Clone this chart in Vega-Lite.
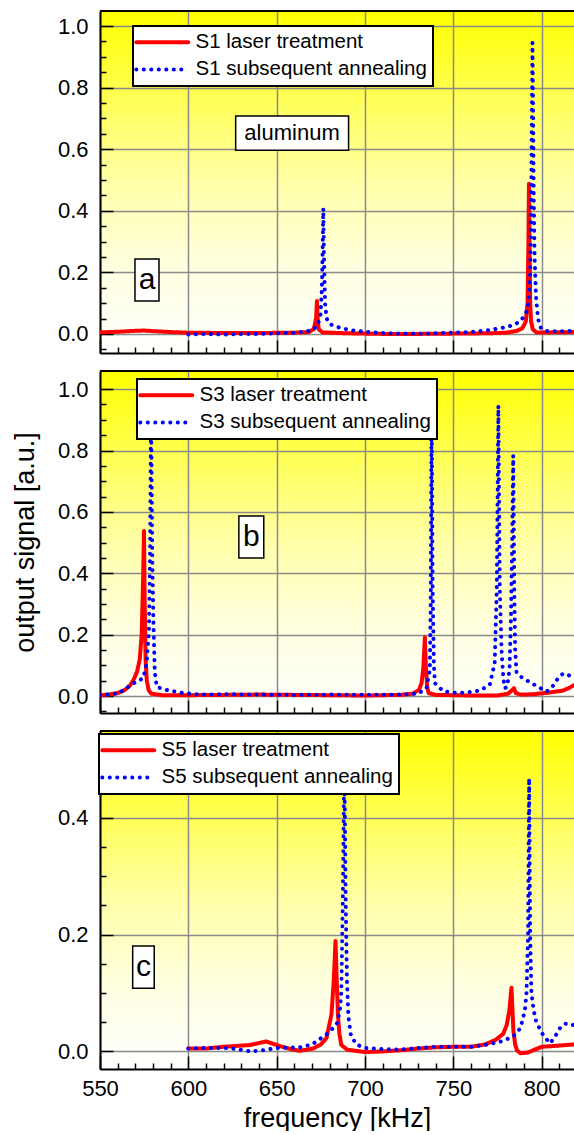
{
  "$schema": "https://vega.github.io/schema/vega-lite/v6.json",
  "padding": {"left": 11, "top": 10, "right": 0, "bottom": 0},
  "config": {
    "font": "Liberation Sans",
    "view": {"stroke": null, "fill": {"gradient": "linear", "x1": 0, "y1": 0, "x2": 0, "y2": 1, "stops": [{"offset": 0, "color": "#ffff00"}, {"offset": 0.25, "color": "#ffff55"}, {"offset": 0.5, "color": "#ffffa8"}, {"offset": 0.75, "color": "#ffffe0"}, {"offset": 1, "color": "#ffffff"}]}},
    "axis": {"domainColor": "black", "domainWidth": 2, "tickColor": "black", "tickWidth": 1.5, "gridColor": "#8a8a8a", "gridWidth": 1.5, "labelFont": "Liberation Sans", "labelColor": "black", "labelOverlap": false, "labelFlush": false, "labelBound": false, "labelPadding": 25, "tickCount": 200, "titleFont": "Liberation Sans", "titleFontSize": 27, "titleFontWeight": "normal", "titleColor": "black"},
    "legend": {"fillColor": "white", "strokeColor": "black", "padding": 6, "labelFont": "Liberation Sans", "labelFontSize": 20.5, "labelColor": "black", "labelLimit": 500, "symbolType": "M-26,0H26", "symbolSize": 4, "symbolStrokeWidth": 4, "symbolOffset": 13, "labelOffset": 23, "rowPadding": 6.2, "labelBaseline": "middle"}
  },
  "datasets": {
    "a": [
      {"series": "S1 laser treatment", "freq": 550, "signal": 0.005}, {"series": "S1 laser treatment", "freq": 560, "signal": 0.007}, {"series": "S1 laser treatment", "freq": 570, "signal": 0.01}, {"series": "S1 laser treatment", "freq": 575, "signal": 0.011}, {"series": "S1 laser treatment", "freq": 580, "signal": 0.009}, {"series": "S1 laser treatment", "freq": 590, "signal": 0.006}, {"series": "S1 laser treatment", "freq": 600, "signal": 0.004}, {"series": "S1 laser treatment", "freq": 620, "signal": 0.003}, {"series": "S1 laser treatment", "freq": 640, "signal": 0.003}, {"series": "S1 laser treatment", "freq": 660, "signal": 0.004}, {"series": "S1 laser treatment", "freq": 668, "signal": 0.006}, {"series": "S1 laser treatment", "freq": 671, "signal": 0.015}, {"series": "S1 laser treatment", "freq": 672.3, "signal": 0.05}, {"series": "S1 laser treatment", "freq": 672.8, "signal": 0.107}, {"series": "S1 laser treatment", "freq": 673.2, "signal": 0.05}, {"series": "S1 laser treatment", "freq": 673.8, "signal": 0.015}, {"series": "S1 laser treatment", "freq": 676, "signal": 0.005}, {"series": "S1 laser treatment", "freq": 690, "signal": 0.002}, {"series": "S1 laser treatment", "freq": 710, "signal": 0.0}, {"series": "S1 laser treatment", "freq": 730, "signal": 0.0}, {"series": "S1 laser treatment", "freq": 750, "signal": 0.001}, {"series": "S1 laser treatment", "freq": 770, "signal": 0.002}, {"series": "S1 laser treatment", "freq": 780, "signal": 0.004}, {"series": "S1 laser treatment", "freq": 786, "signal": 0.01}, {"series": "S1 laser treatment", "freq": 789, "signal": 0.018}, {"series": "S1 laser treatment", "freq": 791, "signal": 0.04}, {"series": "S1 laser treatment", "freq": 792, "signal": 0.1}, {"series": "S1 laser treatment", "freq": 792.5, "signal": 0.3}, {"series": "S1 laser treatment", "freq": 792.8, "signal": 0.488}, {"series": "S1 laser treatment", "freq": 793.1, "signal": 0.3}, {"series": "S1 laser treatment", "freq": 793.5, "signal": 0.1}, {"series": "S1 laser treatment", "freq": 794, "signal": 0.04}, {"series": "S1 laser treatment", "freq": 795, "signal": 0.015}, {"series": "S1 laser treatment", "freq": 797, "signal": 0.005}, {"series": "S1 laser treatment", "freq": 805, "signal": 0.005}, {"series": "S1 laser treatment", "freq": 818, "signal": 0.006},
      {"series": "S1 subsequent annealing", "freq": 600, "signal": -0.002}, {"series": "S1 subsequent annealing", "freq": 610, "signal": 0.0}, {"series": "S1 subsequent annealing", "freq": 620, "signal": -0.002}, {"series": "S1 subsequent annealing", "freq": 630, "signal": 0.0}, {"series": "S1 subsequent annealing", "freq": 640, "signal": 0.0}, {"series": "S1 subsequent annealing", "freq": 650, "signal": 0.002}, {"series": "S1 subsequent annealing", "freq": 660, "signal": 0.004}, {"series": "S1 subsequent annealing", "freq": 669, "signal": 0.01}, {"series": "S1 subsequent annealing", "freq": 673, "signal": 0.025}, {"series": "S1 subsequent annealing", "freq": 674.8, "signal": 0.06}, {"series": "S1 subsequent annealing", "freq": 675.6, "signal": 0.15}, {"series": "S1 subsequent annealing", "freq": 676.1, "signal": 0.3}, {"series": "S1 subsequent annealing", "freq": 676.4, "signal": 0.408}, {"series": "S1 subsequent annealing", "freq": 676.8, "signal": 0.25}, {"series": "S1 subsequent annealing", "freq": 677.4, "signal": 0.1}, {"series": "S1 subsequent annealing", "freq": 678.3, "signal": 0.05}, {"series": "S1 subsequent annealing", "freq": 680, "signal": 0.032}, {"series": "S1 subsequent annealing", "freq": 685.8, "signal": 0.02}, {"series": "S1 subsequent annealing", "freq": 692, "signal": 0.012}, {"series": "S1 subsequent annealing", "freq": 700, "signal": 0.007}, {"series": "S1 subsequent annealing", "freq": 710, "signal": 0.003}, {"series": "S1 subsequent annealing", "freq": 720, "signal": 0.001}, {"series": "S1 subsequent annealing", "freq": 730, "signal": 0.001}, {"series": "S1 subsequent annealing", "freq": 740, "signal": 0.002}, {"series": "S1 subsequent annealing", "freq": 750, "signal": 0.004}, {"series": "S1 subsequent annealing", "freq": 760, "signal": 0.006}, {"series": "S1 subsequent annealing", "freq": 770, "signal": 0.012}, {"series": "S1 subsequent annealing", "freq": 778, "signal": 0.02}, {"series": "S1 subsequent annealing", "freq": 784, "signal": 0.028}, {"series": "S1 subsequent annealing", "freq": 788, "signal": 0.042}, {"series": "S1 subsequent annealing", "freq": 791, "signal": 0.065}, {"series": "S1 subsequent annealing", "freq": 792.5, "signal": 0.1}, {"series": "S1 subsequent annealing", "freq": 793.5, "signal": 0.2}, {"series": "S1 subsequent annealing", "freq": 794.1, "signal": 0.45}, {"series": "S1 subsequent annealing", "freq": 794.5, "signal": 0.75}, {"series": "S1 subsequent annealing", "freq": 794.8, "signal": 0.946}, {"series": "S1 subsequent annealing", "freq": 795.1, "signal": 0.75}, {"series": "S1 subsequent annealing", "freq": 795.5, "signal": 0.45}, {"series": "S1 subsequent annealing", "freq": 796, "signal": 0.25}, {"series": "S1 subsequent annealing", "freq": 796.8, "signal": 0.12}, {"series": "S1 subsequent annealing", "freq": 797.6, "signal": 0.07}, {"series": "S1 subsequent annealing", "freq": 798.3, "signal": 0.04}, {"series": "S1 subsequent annealing", "freq": 799.5, "signal": 0.02}, {"series": "S1 subsequent annealing", "freq": 802, "signal": 0.01}, {"series": "S1 subsequent annealing", "freq": 810, "signal": 0.008}, {"series": "S1 subsequent annealing", "freq": 818, "signal": 0.01}
    ],
    "b": [
      {"series": "S3 laser treatment", "freq": 550, "signal": 0.003}, {"series": "S3 laser treatment", "freq": 555, "signal": 0.005}, {"series": "S3 laser treatment", "freq": 560, "signal": 0.01}, {"series": "S3 laser treatment", "freq": 564, "signal": 0.02}, {"series": "S3 laser treatment", "freq": 567, "signal": 0.035}, {"series": "S3 laser treatment", "freq": 569, "signal": 0.053}, {"series": "S3 laser treatment", "freq": 571, "signal": 0.08}, {"series": "S3 laser treatment", "freq": 572.5, "signal": 0.12}, {"series": "S3 laser treatment", "freq": 573.6, "signal": 0.2}, {"series": "S3 laser treatment", "freq": 574.4, "signal": 0.38}, {"series": "S3 laser treatment", "freq": 574.9, "signal": 0.538}, {"series": "S3 laser treatment", "freq": 575.3, "signal": 0.3}, {"series": "S3 laser treatment", "freq": 575.8, "signal": 0.12}, {"series": "S3 laser treatment", "freq": 576.5, "signal": 0.05}, {"series": "S3 laser treatment", "freq": 577.5, "signal": 0.02}, {"series": "S3 laser treatment", "freq": 579, "signal": 0.008}, {"series": "S3 laser treatment", "freq": 585, "signal": 0.003}, {"series": "S3 laser treatment", "freq": 600, "signal": 0.003}, {"series": "S3 laser treatment", "freq": 620, "signal": 0.004}, {"series": "S3 laser treatment", "freq": 640, "signal": 0.005}, {"series": "S3 laser treatment", "freq": 660, "signal": 0.004}, {"series": "S3 laser treatment", "freq": 680, "signal": 0.003}, {"series": "S3 laser treatment", "freq": 700, "signal": 0.002}, {"series": "S3 laser treatment", "freq": 720, "signal": 0.004}, {"series": "S3 laser treatment", "freq": 727, "signal": 0.008}, {"series": "S3 laser treatment", "freq": 730.5, "signal": 0.02}, {"series": "S3 laser treatment", "freq": 732, "signal": 0.042}, {"series": "S3 laser treatment", "freq": 733, "signal": 0.09}, {"series": "S3 laser treatment", "freq": 733.9, "signal": 0.192}, {"series": "S3 laser treatment", "freq": 734.5, "signal": 0.09}, {"series": "S3 laser treatment", "freq": 735.2, "signal": 0.03}, {"series": "S3 laser treatment", "freq": 736, "signal": 0.01}, {"series": "S3 laser treatment", "freq": 740, "signal": 0.004}, {"series": "S3 laser treatment", "freq": 760, "signal": 0.002}, {"series": "S3 laser treatment", "freq": 775, "signal": 0.002}, {"series": "S3 laser treatment", "freq": 781, "signal": 0.008}, {"series": "S3 laser treatment", "freq": 783, "signal": 0.018}, {"series": "S3 laser treatment", "freq": 784.3, "signal": 0.026}, {"series": "S3 laser treatment", "freq": 785.3, "signal": 0.01}, {"series": "S3 laser treatment", "freq": 788, "signal": 0.005}, {"series": "S3 laser treatment", "freq": 795, "signal": 0.006}, {"series": "S3 laser treatment", "freq": 805, "signal": 0.012}, {"series": "S3 laser treatment", "freq": 812, "signal": 0.018}, {"series": "S3 laser treatment", "freq": 816, "signal": 0.028}, {"series": "S3 laser treatment", "freq": 818, "signal": 0.035},
      {"series": "S3 subsequent annealing", "freq": 550, "signal": 0.003}, {"series": "S3 subsequent annealing", "freq": 556, "signal": 0.006}, {"series": "S3 subsequent annealing", "freq": 561, "signal": 0.01}, {"series": "S3 subsequent annealing", "freq": 565, "signal": 0.026}, {"series": "S3 subsequent annealing", "freq": 569, "signal": 0.042}, {"series": "S3 subsequent annealing", "freq": 572, "signal": 0.05}, {"series": "S3 subsequent annealing", "freq": 574.5, "signal": 0.059}, {"series": "S3 subsequent annealing", "freq": 576.4, "signal": 0.107}, {"series": "S3 subsequent annealing", "freq": 577.7, "signal": 0.216}, {"series": "S3 subsequent annealing", "freq": 578.3, "signal": 0.45}, {"series": "S3 subsequent annealing", "freq": 578.9, "signal": 0.95}, {"series": "S3 subsequent annealing", "freq": 579.6, "signal": 0.45}, {"series": "S3 subsequent annealing", "freq": 580.2, "signal": 0.25}, {"series": "S3 subsequent annealing", "freq": 581, "signal": 0.08}, {"series": "S3 subsequent annealing", "freq": 582.1, "signal": 0.03}, {"series": "S3 subsequent annealing", "freq": 587.7, "signal": 0.02}, {"series": "S3 subsequent annealing", "freq": 597, "signal": 0.01}, {"series": "S3 subsequent annealing", "freq": 607, "signal": 0.005}, {"series": "S3 subsequent annealing", "freq": 620, "signal": 0.006}, {"series": "S3 subsequent annealing", "freq": 640, "signal": 0.005}, {"series": "S3 subsequent annealing", "freq": 660, "signal": 0.004}, {"series": "S3 subsequent annealing", "freq": 680, "signal": 0.005}, {"series": "S3 subsequent annealing", "freq": 700, "signal": 0.004}, {"series": "S3 subsequent annealing", "freq": 720, "signal": 0.005}, {"series": "S3 subsequent annealing", "freq": 730, "signal": 0.008}, {"series": "S3 subsequent annealing", "freq": 734.8, "signal": 0.026}, {"series": "S3 subsequent annealing", "freq": 736.7, "signal": 0.086}, {"series": "S3 subsequent annealing", "freq": 737.2, "signal": 0.3}, {"series": "S3 subsequent annealing", "freq": 737.7, "signal": 0.95}, {"series": "S3 subsequent annealing", "freq": 738.3, "signal": 0.35}, {"series": "S3 subsequent annealing", "freq": 739, "signal": 0.1}, {"series": "S3 subsequent annealing", "freq": 739.6, "signal": 0.042}, {"series": "S3 subsequent annealing", "freq": 744.3, "signal": 0.016}, {"series": "S3 subsequent annealing", "freq": 751.8, "signal": 0.01}, {"series": "S3 subsequent annealing", "freq": 758, "signal": 0.012}, {"series": "S3 subsequent annealing", "freq": 765, "signal": 0.018}, {"series": "S3 subsequent annealing", "freq": 770.6, "signal": 0.037}, {"series": "S3 subsequent annealing", "freq": 773.4, "signal": 0.107}, {"series": "S3 subsequent annealing", "freq": 774.6, "signal": 0.35}, {"series": "S3 subsequent annealing", "freq": 775.5, "signal": 0.946}, {"series": "S3 subsequent annealing", "freq": 776.3, "signal": 0.35}, {"series": "S3 subsequent annealing", "freq": 777.3, "signal": 0.15}, {"series": "S3 subsequent annealing", "freq": 778.3, "signal": 0.06}, {"series": "S3 subsequent annealing", "freq": 779.1, "signal": 0.026}, {"series": "S3 subsequent annealing", "freq": 780.5, "signal": 0.03}, {"series": "S3 subsequent annealing", "freq": 781.8, "signal": 0.09}, {"series": "S3 subsequent annealing", "freq": 782.6, "signal": 0.25}, {"series": "S3 subsequent annealing", "freq": 783.3, "signal": 0.5}, {"series": "S3 subsequent annealing", "freq": 783.9, "signal": 0.784}, {"series": "S3 subsequent annealing", "freq": 784.5, "signal": 0.35}, {"series": "S3 subsequent annealing", "freq": 785, "signal": 0.15}, {"series": "S3 subsequent annealing", "freq": 785.8, "signal": 0.075}, {"series": "S3 subsequent annealing", "freq": 789, "signal": 0.06}, {"series": "S3 subsequent annealing", "freq": 793.4, "signal": 0.045}, {"series": "S3 subsequent annealing", "freq": 798, "signal": 0.03}, {"series": "S3 subsequent annealing", "freq": 802.8, "signal": 0.015}, {"series": "S3 subsequent annealing", "freq": 806, "signal": 0.03}, {"series": "S3 subsequent annealing", "freq": 809.4, "signal": 0.059}, {"series": "S3 subsequent annealing", "freq": 812.2, "signal": 0.074}, {"series": "S3 subsequent annealing", "freq": 815, "signal": 0.07}, {"series": "S3 subsequent annealing", "freq": 818, "signal": 0.055}
    ],
    "c": [
      {"series": "S5 laser treatment", "freq": 600, "signal": 0.005}, {"series": "S5 laser treatment", "freq": 610, "signal": 0.005}, {"series": "S5 laser treatment", "freq": 620, "signal": 0.008}, {"series": "S5 laser treatment", "freq": 630, "signal": 0.01}, {"series": "S5 laser treatment", "freq": 635, "signal": 0.011}, {"series": "S5 laser treatment", "freq": 644, "signal": 0.017}, {"series": "S5 laser treatment", "freq": 652, "signal": 0.009}, {"series": "S5 laser treatment", "freq": 658, "signal": 0.004}, {"series": "S5 laser treatment", "freq": 663, "signal": 0.001}, {"series": "S5 laser treatment", "freq": 670.6, "signal": 0.005}, {"series": "S5 laser treatment", "freq": 675, "signal": 0.012}, {"series": "S5 laser treatment", "freq": 678.2, "signal": 0.023}, {"series": "S5 laser treatment", "freq": 681, "signal": 0.063}, {"series": "S5 laser treatment", "freq": 682.3, "signal": 0.12}, {"series": "S5 laser treatment", "freq": 683.3, "signal": 0.189}, {"series": "S5 laser treatment", "freq": 684, "signal": 0.12}, {"series": "S5 laser treatment", "freq": 684.7, "signal": 0.063}, {"series": "S5 laser treatment", "freq": 685.5, "signal": 0.03}, {"series": "S5 laser treatment", "freq": 686.6, "signal": 0.011}, {"series": "S5 laser treatment", "freq": 690, "signal": 0.003}, {"series": "S5 laser treatment", "freq": 700, "signal": -0.001}, {"series": "S5 laser treatment", "freq": 710, "signal": 0.0}, {"series": "S5 laser treatment", "freq": 720, "signal": 0.002}, {"series": "S5 laser treatment", "freq": 730, "signal": 0.005}, {"series": "S5 laser treatment", "freq": 740, "signal": 0.007}, {"series": "S5 laser treatment", "freq": 750, "signal": 0.008}, {"series": "S5 laser treatment", "freq": 760, "signal": 0.008}, {"series": "S5 laser treatment", "freq": 768, "signal": 0.012}, {"series": "S5 laser treatment", "freq": 774, "signal": 0.02}, {"series": "S5 laser treatment", "freq": 778.2, "signal": 0.03}, {"series": "S5 laser treatment", "freq": 780.2, "signal": 0.045}, {"series": "S5 laser treatment", "freq": 781.7, "signal": 0.07}, {"series": "S5 laser treatment", "freq": 782.9, "signal": 0.109}, {"series": "S5 laser treatment", "freq": 783.5, "signal": 0.07}, {"series": "S5 laser treatment", "freq": 784, "signal": 0.035}, {"series": "S5 laser treatment", "freq": 785, "signal": 0.012}, {"series": "S5 laser treatment", "freq": 786, "signal": 0.002}, {"series": "S5 laser treatment", "freq": 788, "signal": -0.003}, {"series": "S5 laser treatment", "freq": 792, "signal": -0.002}, {"series": "S5 laser treatment", "freq": 800, "signal": 0.008}, {"series": "S5 laser treatment", "freq": 810, "signal": 0.01}, {"series": "S5 laser treatment", "freq": 818, "signal": 0.012},
      {"series": "S5 subsequent annealing", "freq": 600, "signal": 0.005}, {"series": "S5 subsequent annealing", "freq": 610, "signal": 0.006}, {"series": "S5 subsequent annealing", "freq": 620, "signal": 0.006}, {"series": "S5 subsequent annealing", "freq": 628, "signal": 0.004}, {"series": "S5 subsequent annealing", "freq": 635, "signal": 0.0}, {"series": "S5 subsequent annealing", "freq": 642, "signal": 0.002}, {"series": "S5 subsequent annealing", "freq": 650, "signal": 0.006}, {"series": "S5 subsequent annealing", "freq": 663, "signal": 0.007}, {"series": "S5 subsequent annealing", "freq": 670, "signal": 0.012}, {"series": "S5 subsequent annealing", "freq": 678.2, "signal": 0.029}, {"series": "S5 subsequent annealing", "freq": 683.9, "signal": 0.046}, {"series": "S5 subsequent annealing", "freq": 685.8, "signal": 0.07}, {"series": "S5 subsequent annealing", "freq": 686.6, "signal": 0.103}, {"series": "S5 subsequent annealing", "freq": 687.4, "signal": 0.25}, {"series": "S5 subsequent annealing", "freq": 688.3, "signal": 0.5}, {"series": "S5 subsequent annealing", "freq": 689.1, "signal": 0.25}, {"series": "S5 subsequent annealing", "freq": 689.8, "signal": 0.12}, {"series": "S5 subsequent annealing", "freq": 690.6, "signal": 0.06}, {"series": "S5 subsequent annealing", "freq": 692, "signal": 0.028}, {"series": "S5 subsequent annealing", "freq": 695, "signal": 0.012}, {"series": "S5 subsequent annealing", "freq": 700, "signal": 0.006}, {"series": "S5 subsequent annealing", "freq": 710, "signal": 0.004}, {"series": "S5 subsequent annealing", "freq": 720, "signal": 0.003}, {"series": "S5 subsequent annealing", "freq": 730, "signal": 0.006}, {"series": "S5 subsequent annealing", "freq": 740, "signal": 0.008}, {"series": "S5 subsequent annealing", "freq": 750, "signal": 0.008}, {"series": "S5 subsequent annealing", "freq": 760, "signal": 0.008}, {"series": "S5 subsequent annealing", "freq": 770, "signal": 0.012}, {"series": "S5 subsequent annealing", "freq": 778, "signal": 0.018}, {"series": "S5 subsequent annealing", "freq": 784, "signal": 0.026}, {"series": "S5 subsequent annealing", "freq": 788, "signal": 0.04}, {"series": "S5 subsequent annealing", "freq": 790.5, "signal": 0.07}, {"series": "S5 subsequent annealing", "freq": 791.4, "signal": 0.1}, {"series": "S5 subsequent annealing", "freq": 792.3, "signal": 0.2}, {"series": "S5 subsequent annealing", "freq": 792.9, "signal": 0.467}, {"series": "S5 subsequent annealing", "freq": 793.5, "signal": 0.2}, {"series": "S5 subsequent annealing", "freq": 794.2, "signal": 0.1}, {"series": "S5 subsequent annealing", "freq": 795.5, "signal": 0.07}, {"series": "S5 subsequent annealing", "freq": 797, "signal": 0.05}, {"series": "S5 subsequent annealing", "freq": 800.8, "signal": 0.028}, {"series": "S5 subsequent annealing", "freq": 804.7, "signal": 0.014}, {"series": "S5 subsequent annealing", "freq": 807.5, "signal": 0.025}, {"series": "S5 subsequent annealing", "freq": 810.4, "signal": 0.04}, {"series": "S5 subsequent annealing", "freq": 813, "signal": 0.047}, {"series": "S5 subsequent annealing", "freq": 815.1, "signal": 0.048}, {"series": "S5 subsequent annealing", "freq": 818, "signal": 0.045}
    ]
  },
  "spacing": 16,
  "resolve": {"scale": {"color": "independent", "strokeDash": "independent", "x": "independent", "y": "independent"}, "legend": {"color": "independent", "strokeDash": "independent"}},
  "vconcat": [
    {
      "width": 474, "height": 342,
      "layer": [
        {
          "data": {"name": "a"},
          "mark": {"type": "line", "strokeWidth": 4, "strokeCap": "round", "strokeJoin": "round", "clip": true},
          "encoding": {
            "x": {"field": "freq", "type": "quantitative", "scale": {"domain": [550, 818.3], "nice": false, "zero": false},
                  "axis": {"values": [550,560,570,580,590,600,610,620,630,640,650,660,670,680,690,700,710,720,730,740,750,760,770,780,790,800,810], "labels": false, "title": null,
                           "tickSize": {"condition": {"test": "datum.value % 50 === 0", "value": -13}, "value": -6},
                           "gridOpacity": {"condition": {"test": "datum.value % 50 === 0", "value": 1}, "value": 0}}},
            "y": {"field": "signal", "type": "quantitative", "scale": {"domain": [-0.062, 1.049], "nice": false, "zero": false},
                  "axis": {"values": [-0.05,0,0.05,0.1,0.15,0.2,0.25,0.3,0.35,0.4,0.45,0.5,0.55,0.6,0.65,0.7,0.75,0.8,0.85,0.9,0.95,1.0], "title": null,
                           "labelExpr": "abs(datum.value*5 - round(datum.value*5)) < 0.001 ? format(datum.value, '.1f') : ''",
                           "labelFontSize": {"condition": {"test": "abs(datum.value*5 - round(datum.value*5)) < 0.001", "value": 22}, "value": 0},
                           "tickSize": {"condition": {"test": "abs(datum.value*5 - round(datum.value*5)) < 0.001", "value": -13}, "value": -6},
                           "gridOpacity": {"condition": {"test": "abs(datum.value*5 - round(datum.value*5)) < 0.001", "value": 1}, "value": 0}}},
            "color": {"field": "series", "type": "nominal", "scale": {"domain": ["S1 laser treatment", "S1 subsequent annealing"], "range": ["#ff0000", "#0000ff"]},
                      "legend": {"orient": "none", "legendX": 33, "legendY": 15, "title": null, "symbolType": "M-26,0H26", "labelExpr": "datum.label + '\u00a0\u00a0\u00a0'", "encode": {"legend": {"update": {"strokeWidth": {"value": 2}}}, "symbols": {"update": {"strokeCap": {"value": "round"}}}}}},
            "strokeDash": {"field": "series", "type": "nominal", "scale": {"domain": ["S1 laser treatment", "S1 subsequent annealing"], "range": [[1, 0], [0.1, 7.4]]},
                      "legend": {"orient": "none", "legendX": 33, "legendY": 15, "title": null, "symbolType": "M-26,0H26", "labelExpr": "datum.label + '\u00a0\u00a0\u00a0'", "encode": {"legend": {"update": {"strokeWidth": {"value": 2}}}, "symbols": {"update": {"strokeCap": {"value": "round"}}}}}}
          }
        },
        {"data": {"values": [{}]}, "mark": {"type": "rule", "color": "black", "strokeWidth": 2}, "encoding": {"y": {"datum": 1.049, "type": "quantitative"}}},
        {"data": {"values": [{}]}, "mark": {"type": "rect", "fill": "white", "stroke": "black", "strokeWidth": 1.5},
         "encoding": {"x": {"datum": 569.8, "type": "quantitative"}, "x2": {"datum": 583.4}, "y": {"datum": 0.2435, "type": "quantitative"}, "y2": {"datum": 0.107}}},
        {"data": {"values": [{}]}, "mark": {"type": "text", "fontSize": 30, "font": "Liberation Sans", "color": "black", "align": "center", "baseline": "middle"},
         "encoding": {"x": {"datum": 576.6, "type": "quantitative"}, "y": {"datum": 0.175, "type": "quantitative"}, "text": {"value": "a"}}},
        {"data": {"values": [{}]}, "mark": {"type": "rect", "fill": "white", "stroke": "black", "strokeWidth": 1.5},
         "encoding": {"x": {"datum": 626.8, "type": "quantitative"}, "x2": {"datum": 690.7}, "y": {"datum": 0.708, "type": "quantitative"}, "y2": {"datum": 0.597}}},
        {"data": {"values": [{}]}, "mark": {"type": "text", "fontSize": 22, "font": "Liberation Sans", "color": "black", "align": "center", "baseline": "middle"},
         "encoding": {"x": {"datum": 658.7, "type": "quantitative"}, "y": {"datum": 0.6526, "type": "quantitative"}, "text": {"value": "aluminum"}}}
      ]
    },
    {
      "width": 474, "height": 342,
      "layer": [
        {
          "data": {"name": "b"},
          "mark": {"type": "line", "strokeWidth": 4, "strokeCap": "round", "strokeJoin": "round", "clip": true},
          "encoding": {
            "x": {"field": "freq", "type": "quantitative", "scale": {"domain": [550, 818.3], "nice": false, "zero": false},
                  "axis": {"values": [550,560,570,580,590,600,610,620,630,640,650,660,670,680,690,700,710,720,730,740,750,760,770,780,790,800,810], "labels": false, "title": null,
                           "tickSize": {"condition": {"test": "datum.value % 50 === 0", "value": -13}, "value": -6},
                           "gridOpacity": {"condition": {"test": "datum.value % 50 === 0", "value": 1}, "value": 0}}},
            "y": {"field": "signal", "type": "quantitative", "scale": {"domain": [-0.055, 1.059], "nice": false, "zero": false},
                  "axis": {"values": [-0.05,0,0.05,0.1,0.15,0.2,0.25,0.3,0.35,0.4,0.45,0.5,0.55,0.6,0.65,0.7,0.75,0.8,0.85,0.9,0.95,1.0], "title": "output signal [a.u.]", "titlePadding": 18,
                           "labelExpr": "abs(datum.value*5 - round(datum.value*5)) < 0.001 ? format(datum.value, '.1f') : ''",
                           "labelFontSize": {"condition": {"test": "abs(datum.value*5 - round(datum.value*5)) < 0.001", "value": 22}, "value": 0},
                           "tickSize": {"condition": {"test": "abs(datum.value*5 - round(datum.value*5)) < 0.001", "value": -13}, "value": -6},
                           "gridOpacity": {"condition": {"test": "abs(datum.value*5 - round(datum.value*5)) < 0.001", "value": 1}, "value": 0}}},
            "color": {"field": "series", "type": "nominal", "scale": {"domain": ["S3 laser treatment", "S3 subsequent annealing"], "range": ["#ff0000", "#0000ff"]},
                      "legend": {"orient": "none", "legendX": 37, "legendY": 8, "title": null, "symbolType": "M-26,0H26", "labelExpr": "datum.label + '\u00a0\u00a0\u00a0'", "encode": {"legend": {"update": {"strokeWidth": {"value": 2}}}, "symbols": {"update": {"strokeCap": {"value": "round"}}}}}},
            "strokeDash": {"field": "series", "type": "nominal", "scale": {"domain": ["S3 laser treatment", "S3 subsequent annealing"], "range": [[1, 0], [0.1, 7.4]]},
                      "legend": {"orient": "none", "legendX": 37, "legendY": 8, "title": null, "symbolType": "M-26,0H26", "labelExpr": "datum.label + '\u00a0\u00a0\u00a0'", "encode": {"legend": {"update": {"strokeWidth": {"value": 2}}}, "symbols": {"update": {"strokeCap": {"value": "round"}}}}}}
          }
        },
        {"data": {"values": [{}]}, "mark": {"type": "rule", "color": "black", "strokeWidth": 2}, "encoding": {"y": {"datum": 1.059, "type": "quantitative"}}},
        {"data": {"values": [{}]}, "mark": {"type": "rect", "fill": "white", "stroke": "black", "strokeWidth": 1.5},
         "encoding": {"x": {"datum": 628.6, "type": "quantitative"}, "x2": {"datum": 642.7}, "y": {"datum": 0.587, "type": "quantitative"}, "y2": {"datum": 0.4495}}},
        {"data": {"values": [{}]}, "mark": {"type": "text", "fontSize": 30, "font": "Liberation Sans", "color": "black", "align": "center", "baseline": "middle"},
         "encoding": {"x": {"datum": 635.6, "type": "quantitative"}, "y": {"datum": 0.518, "type": "quantitative"}, "text": {"value": "b"}}}
      ]
    },
    {
      "width": 474, "height": 338,
      "layer": [
        {
          "data": {"name": "c"},
          "mark": {"type": "line", "strokeWidth": 4, "strokeCap": "round", "strokeJoin": "round", "clip": true},
          "encoding": {
            "x": {"field": "freq", "type": "quantitative", "scale": {"domain": [550, 818.3], "nice": false, "zero": false},
                  "axis": {"values": [550,560,570,580,590,600,610,620,630,640,650,660,670,680,690,700,710,720,730,740,750,760,770,780,790,800,810], "title": "frequency [kHz]", "titlePadding": 6, "labelPadding": 22,
                           "labelExpr": "datum.value % 50 === 0 ? datum.label : ''",
                           "labelFontSize": {"condition": {"test": "datum.value % 50 === 0", "value": 22}, "value": 0},
                           "tickSize": {"condition": {"test": "datum.value % 50 === 0", "value": -13}, "value": -6},
                           "gridOpacity": {"condition": {"test": "datum.value % 50 === 0", "value": 1}, "value": 0}}},
            "y": {"field": "signal", "type": "quantitative", "scale": {"domain": [-0.03, 0.548], "nice": false, "zero": false},
                  "axis": {"values": [0,0.05,0.1,0.15,0.2,0.25,0.3,0.35,0.4,0.45,0.5], "title": null,
                           "labelExpr": "abs(datum.value*5 - round(datum.value*5)) < 0.001 ? format(datum.value, '.1f') : ''",
                           "labelFontSize": {"condition": {"test": "abs(datum.value*5 - round(datum.value*5)) < 0.001", "value": 22}, "value": 0},
                           "tickSize": {"condition": {"test": "abs(datum.value*5 - round(datum.value*5)) < 0.001", "value": -13}, "value": -6},
                           "gridOpacity": {"condition": {"test": "abs(datum.value*5 - round(datum.value*5)) < 0.001", "value": 1}, "value": 0}}},
            "color": {"field": "series", "type": "nominal", "scale": {"domain": ["S5 laser treatment", "S5 subsequent annealing"], "range": ["#ff0000", "#0000ff"]},
                      "legend": {"orient": "none", "legendX": -1, "legendY": 3, "title": null, "symbolType": "M-26,0H26", "labelExpr": "datum.label + '\u00a0\u00a0\u00a0'", "encode": {"legend": {"update": {"strokeWidth": {"value": 2}}}, "symbols": {"update": {"strokeCap": {"value": "round"}}}}}},
            "strokeDash": {"field": "series", "type": "nominal", "scale": {"domain": ["S5 laser treatment", "S5 subsequent annealing"], "range": [[1, 0], [0.1, 7.4]]},
                      "legend": {"orient": "none", "legendX": -1, "legendY": 3, "title": null, "symbolType": "M-26,0H26", "labelExpr": "datum.label + '\u00a0\u00a0\u00a0'", "encode": {"legend": {"update": {"strokeWidth": {"value": 2}}}, "symbols": {"update": {"strokeCap": {"value": "round"}}}}}}
          }
        },
        {"data": {"values": [{}]}, "mark": {"type": "rule", "color": "black", "strokeWidth": 2}, "encoding": {"y": {"datum": 0.548, "type": "quantitative"}}},
        {"data": {"values": [{}]}, "mark": {"type": "rect", "fill": "white", "stroke": "black", "strokeWidth": 1.5},
         "encoding": {"x": {"datum": 568.5, "type": "quantitative"}, "x2": {"datum": 580.7}, "y": {"datum": 0.1805, "type": "quantitative"}, "y2": {"datum": 0.1082}}},
        {"data": {"values": [{}]}, "mark": {"type": "text", "fontSize": 30, "font": "Liberation Sans", "color": "black", "align": "center", "baseline": "middle"},
         "encoding": {"x": {"datum": 574.6, "type": "quantitative"}, "y": {"datum": 0.1446, "type": "quantitative"}, "text": {"value": "c"}}}
      ]
    }
  ]
}
